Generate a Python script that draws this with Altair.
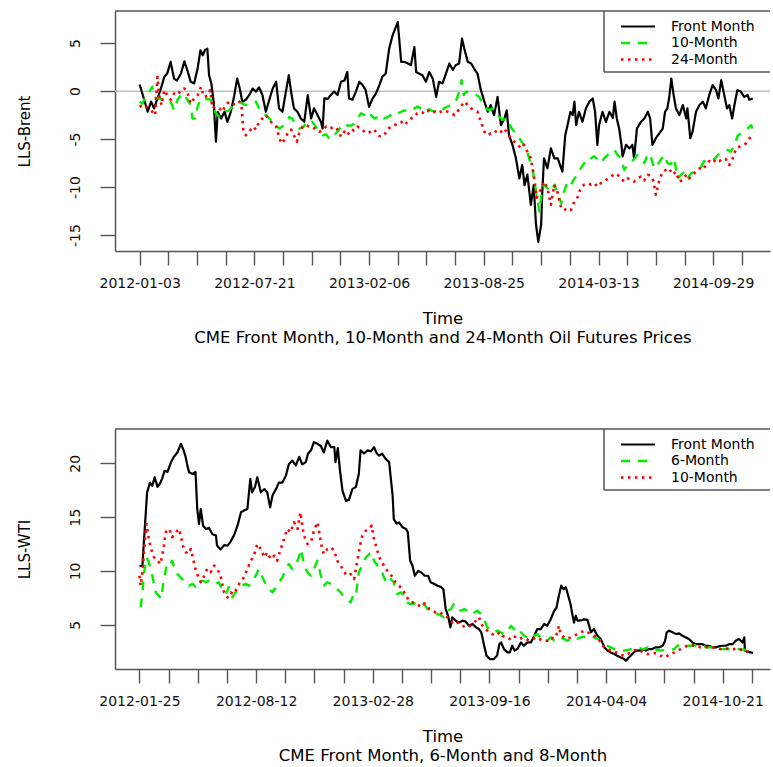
import altair as alt
import pandas as pd

FONT = "DejaVu Sans"
FRAME = "#555555"

# ---------------- Panel 1: LLS-Brent ----------------
TOP_START = "2012-01-03"
TOP_X_DOMAIN = ["2011-11-21", "2015-01-06"]
TOP_Y_DOMAIN = [-16.66, 8.35]
TOP_Y_TICKS = [-15, -10, -5, 0, 5]
TOP_Y_TITLE = "LLS-Brent"
TOP_CAPTION = "CME Front Month, 10-Month and 24-Month Oil Futures Prices"
TOP_LABELS = ["Front Month", "10-Month", "24-Month"]

# (days since TOP_START, spread)
TOP_FRONT = [
    (0, 0.69), (14, -2.15), (20, -1.1), (25, -1.8), (31, -0.77), (37, 0.27), (43, 1.49), (48, 1.83), (54, 3.05), (60, 1.3),
    (65, 1.1), (72, 1.83), (78, 3.1), (83, 2.2), (89, 0.97), (95, 0.8), (101, 2.35), (106, 4.26), (110, 3.74), (114, 4.3),
    (118, 4.43), (121, 1.66), (125, 0.79), (129, -1.1), (133, -5.27), (136, -2.15), (142, -2.85), (148, -2.15), (153, -3.2), (159, -2.15),
    (165, -0.42), (170, 1.3), (174, 0.4), (179, -1.1), (185, -0.9), (191, -0.42), (197, 0.27), (203, -0.05), (208, 0.4), (214, -0.4),
    (220, -2.15), (226, -0.9), (232, 0.27), (238, 0.97), (243, -1.8), (249, -2.15), (255, -0.05), (260, 1.66), (264, -0.05), (269, -1.8),
    (275, -2.15), (281, -2.85), (287, -3.2), (293, -0.42), (299, -2.85), (304, -1.8), (310, -2.5), (316, -3.2), (319, -3.9), (322, -0.75),
    (328, -0.8), (333, -0.42), (339, -0.05), (345, -0.4), (351, 0.97), (357, 1.1), (362, 2.0), (365, -0.77), (371, -0.9), (377, -0.05),
    (383, 0.97), (389, 0.62), (394, 0.1), (400, -1.63), (406, -0.77), (412, -0.25), (418, 0.62), (423, 1.49), (429, 1.83), (435, 4.43),
    (441, 5.82), (450, 7.2), (453, 5.1), (456, 3.05), (461, 3.05), (467, 2.9), (473, 2.7), (479, 4.6), (482, 2.0), (487, 1.83),
    (493, 1.66), (499, 0.97), (505, 2.0), (511, 1.3), (517, -0.6), (522, 0.97), (528, 0.8), (534, 1.83), (540, 2.88), (546, 2.2),
    (551, 2.7), (557, 2.88), (562, 5.47), (566, 4.43), (572, 3.05), (578, 2.88), (583, 2.35), (589, 1.83), (595, 0.1), (601, -1.1),
    (607, -2.15), (612, -1.45), (618, -2.5), (624, -0.6), (630, -3.55), (636, -2.85), (640, -2.0), (644, -4.6), (650, -5.6), (656, -7.0),
    (662, -9.1), (667, -7.7), (671, -9.8), (676, -8.7), (682, -11.85), (687, -9.8), (691, -13.9), (695, -15.7), (700, -13.9), (702, -10.5),
    (705, -7.0), (711, -8.05), (717, -5.97), (723, -7.0), (729, -7.0), (735, -8.05), (737, -8.4), (742, -4.6), (746, -3.55), (751, -2.15),
    (755, -2.5), (758, -1.1), (761, -3.55), (766, -2.15), (772, -3.2), (778, -1.8), (784, -1.1), (790, -0.77), (794, -2.15), (798, -5.6),
    (801, -3.55), (807, -2.15), (813, -3.2), (819, -2.15), (825, -2.8), (828, -1.1), (832, -2.9), (836, -3.9), (840, -5.6), (842, -6.8),
    (848, -5.6), (854, -5.97), (859, -5.6), (862, -7.0), (867, -3.9), (874, -3.2), (880, -2.85), (886, -2.15), (890, -2.85), (894, -5.6),
    (900, -4.9), (906, -4.4), (912, -3.9), (916, -2.15), (920, -1.8), (923, -0.77), (927, 1.3), (931, -0.42), (935, -1.8), (941, -2.5),
    (947, -1.45), (953, -2.85), (955, -1.8), (960, -4.9), (964, -4.23), (970, -2.15), (976, -1.45), (982, -1.1), (987, -1.8), (993, -0.42),
    (999, 0.62), (1005, 0.1), (1009, -0.77), (1014, 1.14), (1018, -0.05), (1024, -1.8), (1028, -1.45), (1033, -2.85), (1037, -1.45), (1042, 0.1),
    (1048, -0.05), (1054, -0.6), (1060, -0.4), (1063, -0.9), (1069, -0.77),
]

TOP_10M = [
    (0, -1.1), (5, -1.3), (11, -0.42), (17, -0.05), (22, 0.45), (25, -0.6), (31, -0.77), (37, -0.8), (43, -0.9), (48, -0.8),
    (54, -1.1), (60, -1.98), (66, -0.9), (72, -0.42), (78, -0.25), (83, -0.9), (89, -1.45), (92, -2.85), (97, -2.85), (101, -1.6),
    (107, -0.77), (112, -0.9), (118, -0.8), (124, -0.9), (129, -1.8), (133, -2.3), (139, -2.7), (144, -2.5), (150, -2.15), (156, -2.0),
    (162, -1.6), (168, -1.3), (174, -1.1), (179, -1.3), (185, -1.45), (191, -1.3), (197, -1.1), (203, -1.1), (208, -1.8), (214, -2.3),
    (220, -2.5), (226, -2.85), (232, -3.2), (238, -3.55), (243, -3.9), (249, -3.7), (255, -3.2), (261, -2.7), (266, -2.85), (272, -3.55),
    (278, -3.9), (284, -3.8), (290, -3.4), (296, -3.55), (301, -3.2), (307, -3.7), (313, -4.23), (319, -4.6), (325, -4.5), (330, -4.9),
    (336, -4.93), (342, -4.4), (345, -4.23), (351, -3.7), (357, -3.9), (362, -3.55), (368, -3.6), (374, -3.4), (380, -2.85), (386, -2.3),
    (392, -2.5), (397, -2.85), (403, -2.5), (409, -2.85), (415, -2.7), (421, -2.5), (426, -2.85), (432, -2.7), (438, -2.5), (444, -2.15),
    (450, -2.3), (456, -2.15), (461, -2.0), (467, -2.15), (473, -2.0), (479, -1.8), (484, -1.6), (490, -1.8), (496, -2.0), (502, -1.8),
    (508, -2.0), (514, -2.15), (519, -1.8), (525, -2.0), (531, -1.8), (537, -1.6), (543, -1.45), (549, -1.3), (553, -0.77), (557, -0.05),
    (561, 1.14), (565, -0.42), (569, -0.05), (575, -0.25), (580, -0.25), (586, -0.35), (592, -0.6), (598, -1.3), (604, -1.8), (609, -1.98),
    (615, -1.8), (621, -2.15), (627, -2.7), (633, -3.0), (639, -2.85), (644, -3.4), (650, -4.0), (656, -4.4), (662, -4.93), (668, -5.45),
    (674, -5.97), (679, -7.0), (685, -8.05), (691, -10.47), (697, -12.55), (700, -11.1), (704, -9.75), (711, -10.1), (717, -10.47),
    (723, -9.75), (729, -10.65), (735, -11.7), (740, -10.47), (746, -9.43), (752, -9.75), (758, -9.1), (764, -8.7), (769, -8.05), (775, -7.5),
    (781, -7.6), (787, -7.0), (793, -6.8), (798, -7.1), (804, -7.5), (810, -7.0), (816, -6.65), (822, -6.5), (828, -6.13), (833, -6.65),
    (839, -7.0), (845, -8.2), (851, -7.7), (857, -7.3), (862, -7.1), (868, -6.65), (874, -7.0), (880, -7.5), (886, -6.5), (892, -7.0),
    (897, -8.05), (903, -7.7), (909, -7.1), (915, -6.65), (920, -7.5), (926, -7.6), (932, -7.0), (938, -9.1), (944, -8.7), (950, -8.4),
    (955, -9.1), (961, -8.6), (967, -8.4), (973, -8.05), (979, -7.87), (984, -7.3), (990, -7.2), (996, -7.0), (1002, -7.1), (1008, -6.65),
    (1014, -6.5), (1019, -6.3), (1025, -6.13), (1031, -6.3), (1037, -5.6), (1043, -4.6), (1049, -4.4), (1054, -4.23), (1060, -3.9), (1066, -3.55),
    (1069, -4.0),
]

TOP_24M = [
    (0, -1.63), (5, -1.45), (11, -1.6), (17, -1.8), (22, -2.15), (27, -2.5), (31, 1.49), (34, -0.42), (38, -1.45), (43, 0.1),
    (48, -0.42), (54, -0.9), (60, -0.25), (66, -0.4), (72, 0.1), (78, 0.27), (83, -0.05), (89, -1.3), (95, -0.77), (101, -0.42),
    (107, 0.45), (112, -0.6), (118, -0.5), (123, 0.1), (127, -1.8), (133, -1.63), (139, -1.8), (144, -2.15), (150, -1.45), (156, -1.1),
    (162, -1.3), (168, -1.45), (174, -1.1), (178, -1.8), (181, -4.23), (185, -4.6), (191, -4.23), (197, -3.7), (203, -4.0), (208, -3.2),
    (214, -2.85), (220, -2.5), (226, -3.0), (232, -3.4), (238, -3.7), (243, -4.75), (247, -5.45), (252, -5.1), (258, -4.4), (264, -4.0),
    (269, -4.6), (274, -5.27), (278, -4.4), (284, -3.7), (290, -3.55), (296, -3.7), (301, -3.7), (307, -4.0), (313, -4.23), (319, -4.1),
    (325, -3.7), (330, -3.9), (336, -3.8), (339, -3.7), (345, -4.0), (351, -4.75), (357, -4.23), (362, -4.6), (368, -4.0), (374, -4.1),
    (380, -3.7), (386, -3.9), (392, -4.23), (397, -4.4), (403, -4.2), (409, -4.0), (415, -4.6), (421, -4.75), (426, -4.6), (432, -4.0),
    (438, -3.7), (444, -3.55), (450, -3.4), (456, -3.2), (461, -3.55), (467, -3.2), (473, -2.85), (479, -2.7), (484, -2.3), (490, -2.15),
    (496, -2.3), (502, -2.0), (508, -2.3), (514, -2.15), (519, -2.3), (525, -2.15), (531, -2.0), (537, -2.15), (543, -2.3), (549, -2.5),
    (554, -2.15), (560, -1.63), (566, -1.1), (572, -1.45), (578, -1.8), (583, -2.0), (589, -2.15), (595, -3.2), (601, -4.23), (607, -4.6),
    (612, -4.4), (618, -4.4), (624, -4.0), (630, -4.23), (636, -3.9), (641, -4.4), (647, -4.93), (653, -5.27), (659, -5.6), (665, -5.97),
    (670, -5.6), (676, -6.3), (682, -7.0), (688, -9.1), (692, -11.1), (697, -10.47), (702, -9.95), (705, -9.43), (711, -10.1), (717, -11.85),
    (723, -9.75), (729, -10.65), (735, -12.2), (740, -12.4), (746, -12.2), (752, -12.4), (758, -11.5), (764, -11.0), (769, -10.1), (775, -9.75),
    (781, -9.6), (787, -9.75), (793, -9.6), (798, -9.95), (804, -9.6), (810, -9.43), (816, -9.1), (822, -8.9), (828, -8.6), (833, -8.7),
    (839, -9.1), (845, -9.43), (851, -9.1), (857, -9.25), (862, -9.43), (868, -9.1), (874, -8.9), (880, -9.3), (886, -8.7), (892, -8.9),
    (896, -9.43), (900, -10.8), (906, -9.3), (912, -8.4), (918, -8.2), (923, -8.05), (929, -8.7), (935, -8.4), (941, -9.43), (947, -9.25),
    (953, -8.7), (958, -9.1), (964, -8.7), (970, -8.4), (976, -8.05), (982, -8.2), (987, -7.7), (993, -7.3), (999, -7.5), (1005, -7.1),
    (1011, -7.3), (1016, -7.0), (1022, -7.1), (1028, -7.7), (1034, -7.0), (1040, -5.97), (1045, -5.8), (1051, -5.6), (1057, -5.45), (1063, -4.93),
    (1069, -4.75),
]

# ---------------- Panel 2: LLS-WTI ----------------
BOT_START = "2012-01-25"
BOT_X_DOMAIN = ["2011-12-14", "2015-01-10"]
BOT_Y_DOMAIN = [0.89, 23.18]
BOT_Y_TICKS = [5, 10, 15, 20]
BOT_Y_TITLE = "LLS-WTI"
BOT_CAPTION = "CME Front Month, 6-Month and 8-Month"
BOT_LABELS = ["Front Month", "6-Month", "10-Month"]

BOT_FRONT = [
    (0, 10.43), (5, 10.5), (9, 13.9), (13, 17.3), (18, 18.2), (22, 17.9), (26, 18.7), (31, 17.8), (35, 18.1), (39, 18.6),
    (43, 19.3), (48, 19.2), (54, 20.1), (59, 20.6), (65, 21.0), (71, 21.8), (75, 21.3), (79, 20.6), (82, 19.8), (85, 19.16),
    (91, 19.0), (96, 19.2), (99, 15.75), (102, 14.36), (105, 15.75), (109, 14.2), (114, 13.9), (119, 14.0), (125, 13.4), (131, 13.3),
    (133, 12.35), (139, 12.0), (145, 12.4), (151, 12.35), (156, 12.7), (162, 13.3), (168, 14.2), (174, 15.45), (179, 15.6), (185, 15.75),
    (190, 18.55), (193, 17.3), (198, 17.8), (202, 18.7), (208, 17.3), (214, 17.6), (219, 17.3), (224, 15.9), (228, 17.0), (234, 17.6),
    (239, 18.2), (245, 18.2), (251, 18.85), (256, 19.9), (262, 20.25), (268, 19.8), (274, 20.6), (279, 19.9), (285, 20.1), (289, 20.9),
    (294, 21.2), (299, 21.95), (305, 21.8), (311, 21.6), (316, 21.0), (322, 22.1), (328, 21.5), (334, 21.5), (336, 20.1), (340, 21.4),
    (344, 19.2), (348, 17.45), (354, 16.5), (359, 16.6), (365, 17.6), (371, 17.8), (376, 19.0), (379, 21.2), (385, 20.9), (391, 21.2),
    (397, 21.1), (402, 21.5), (407, 20.9), (411, 20.7), (416, 20.9), (422, 20.4), (428, 20.1), (431, 18.55), (434, 17.0), (436, 14.8),
    (441, 14.4), (445, 14.5), (451, 14.05), (457, 13.9), (460, 13.6), (464, 10.95), (468, 10.5), (472, 9.55), (478, 10.0), (483, 9.85),
    (489, 9.55), (495, 9.55), (499, 8.95), (505, 8.8), (511, 8.63), (517, 8.5), (521, 8.3), (525, 6.46), (529, 5.84), (533, 4.76),
    (536, 5.69), (542, 5.38), (548, 5.2), (554, 5.38), (559, 5.3), (565, 4.9), (571, 5.07), (577, 4.76), (582, 4.6), (586, 4.3),
    (591, 3.05), (595, 2.12), (601, 1.81), (607, 1.81), (613, 2.12), (617, 3.2), (620, 3.35), (625, 2.74), (631, 2.43), (635, 2.43),
    (639, 3.05), (643, 2.6), (648, 2.74), (654, 3.36), (659, 3.05), (665, 3.36), (671, 3.36), (677, 3.98), (682, 4.6), (688, 4.6),
    (694, 5.07), (699, 4.9), (705, 5.5), (711, 6.3), (715, 6.6), (719, 7.7), (723, 8.63), (727, 8.3), (731, 8.48), (735, 7.7),
    (739, 6.92), (742, 6.0), (745, 5.2), (748, 5.84), (751, 5.38), (757, 5.4), (762, 5.5), (768, 5.45), (771, 4.9), (774, 4.3),
    (779, 4.6), (785, 3.98), (791, 3.67), (797, 2.9), (802, 2.6), (808, 2.43), (814, 2.28), (819, 2.12), (825, 1.96), (831, 1.81),
    (834, 1.65), (839, 1.96), (845, 2.28), (851, 2.6), (857, 2.6), (862, 2.74), (868, 2.6), (874, 2.74), (879, 2.74), (885, 2.9),
    (891, 2.9), (897, 3.05), (901, 3.5), (904, 4.3), (908, 4.45), (914, 4.3), (920, 4.13), (925, 4.2), (931, 3.98), (937, 3.82),
    (942, 3.67), (948, 3.36), (954, 3.2), (960, 3.2), (965, 3.2), (971, 3.05), (977, 3.05), (982, 2.9), (988, 2.9), (994, 3.0),
    (1000, 3.05), (1005, 3.05), (1011, 3.2), (1017, 3.2), (1022, 3.52), (1028, 3.67), (1034, 3.36), (1037, 3.82), (1038, 2.6), (1042, 2.5),
    (1048, 2.43), (1052, 2.38),
]

BOT_6M = [
    (2, 6.62), (5, 8.0), (8, 9.87), (12, 11.26), (16, 10.8), (22, 9.55), (28, 8.0), (33, 7.7), (37, 7.4), (42, 9.25),
    (47, 10.64), (52, 10.5), (56, 10.95), (62, 9.87), (68, 9.55), (73, 9.25), (79, 9.1), (85, 8.63), (91, 8.8), (96, 8.5),
    (102, 8.95), (108, 9.1), (114, 8.95), (119, 9.1), (125, 8.95), (131, 8.8), (136, 8.95), (142, 8.3), (148, 7.85), (153, 8.5),
    (159, 7.54), (165, 8.0), (171, 8.3), (176, 8.63), (182, 8.8), (188, 8.63), (193, 8.95), (199, 9.55), (205, 10.18), (211, 9.4),
    (216, 8.8), (222, 8.3), (228, 8.0), (234, 8.5), (239, 8.95), (245, 9.4), (251, 10.18), (256, 10.64), (262, 10.18), (268, 10.5),
    (274, 11.41), (277, 12.03), (282, 10.5), (288, 9.87), (294, 9.55), (299, 10.18), (305, 10.95), (311, 9.55), (316, 8.63), (322, 8.95),
    (328, 8.8), (334, 8.63), (339, 8.3), (345, 8.0), (351, 7.54), (356, 7.38), (362, 7.08), (367, 7.85), (371, 7.7), (376, 9.87),
    (382, 10.5), (388, 11.26), (394, 11.57), (398, 11.72), (402, 10.95), (408, 10.5), (414, 10.18), (419, 9.4), (425, 8.8), (431, 9.25),
    (436, 8.95), (442, 7.85), (448, 8.0), (454, 7.7), (459, 7.08), (465, 6.92), (471, 7.0), (476, 6.77), (482, 6.8), (488, 6.9),
    (494, 6.46), (499, 6.3), (505, 6.15), (511, 6.0), (517, 5.84), (522, 5.69), (528, 6.3), (534, 6.46), (539, 6.92), (545, 6.46),
    (551, 6.3), (557, 6.46), (562, 6.3), (568, 6.46), (574, 6.15), (579, 6.3), (585, 6.0), (591, 5.53), (596, 4.76), (602, 4.6),
    (608, 4.3), (614, 4.45), (619, 4.3), (625, 4.13), (631, 4.45), (637, 4.9), (642, 4.6), (648, 4.13), (654, 4.3), (659, 3.98),
    (665, 3.82), (671, 3.67), (677, 3.98), (682, 4.13), (688, 3.82), (694, 3.67), (699, 3.52), (705, 3.82), (711, 3.52), (717, 3.7),
    (722, 3.82), (728, 3.67), (734, 3.52), (739, 3.67), (745, 3.82), (751, 3.7), (757, 3.82), (762, 3.9), (768, 3.82), (774, 3.98),
    (779, 3.82), (785, 3.7), (791, 3.52), (797, 3.2), (802, 3.05), (808, 2.9), (814, 2.74), (819, 2.68), (825, 2.6), (831, 2.6),
    (837, 2.65), (842, 2.74), (848, 2.68), (854, 2.74), (859, 2.8), (865, 2.74), (871, 2.9), (877, 2.74), (882, 2.6), (888, 2.68),
    (894, 2.6), (900, 2.65), (905, 2.74), (911, 2.68), (917, 2.74), (922, 3.05), (928, 3.1), (934, 3.1), (939, 3.05), (945, 3.05),
    (951, 3.1), (957, 3.05), (962, 3.0), (968, 3.0), (974, 2.9), (980, 2.9), (985, 2.85), (991, 2.8), (997, 2.74), (1002, 2.74),
    (1008, 2.74), (1014, 2.68), (1020, 2.74), (1025, 2.74), (1031, 2.74), (1037, 2.68), (1042, 2.6), (1048, 2.43),
]

BOT_10M = [
    (0, 9.55), (2, 8.63), (5, 9.87), (9, 12.66), (12, 14.36), (16, 12.97), (20, 12.03), (25, 11.26), (31, 10.95), (36, 10.64),
    (41, 12.03), (45, 13.59), (51, 13.9), (56, 13.13), (62, 13.59), (68, 13.9), (72, 12.97), (76, 12.03), (82, 11.57), (88, 12.03),
    (92, 11.1), (96, 10.18), (100, 9.55), (105, 8.95), (111, 9.55), (116, 10.18), (122, 9.87), (128, 10.5), (133, 10.18), (139, 9.55),
    (145, 8.0), (151, 7.54), (156, 8.0), (162, 7.85), (168, 8.5), (174, 9.1), (179, 9.4), (185, 10.18), (191, 10.95), (196, 11.41),
    (202, 12.5), (208, 12.03), (214, 11.26), (219, 11.72), (225, 11.1), (231, 11.41), (236, 10.95), (242, 12.03), (248, 12.97), (253, 13.9),
    (259, 13.59), (265, 14.52), (271, 13.9), (276, 15.45), (279, 14.21), (282, 13.28), (288, 12.5), (294, 12.66), (299, 13.74), (305, 14.52),
    (308, 13.59), (312, 12.35), (316, 11.57), (322, 12.03), (328, 12.2), (334, 11.88), (339, 10.95), (345, 10.5), (351, 9.87), (356, 9.55),
    (362, 9.7), (368, 9.25), (374, 11.1), (378, 12.35), (382, 13.28), (388, 13.74), (394, 13.9), (398, 14.21), (402, 12.97), (407, 12.03),
    (411, 11.26), (416, 10.8), (422, 10.18), (428, 9.87), (434, 9.4), (439, 8.95), (445, 8.63), (451, 8.3), (457, 7.7), (462, 7.23),
    (468, 7.08), (474, 6.92), (479, 6.77), (485, 7.08), (491, 6.9), (497, 6.46), (502, 6.3), (508, 6.15), (514, 6.2), (519, 6.0),
    (525, 5.84), (531, 5.53), (536, 5.22), (542, 5.38), (548, 5.07), (554, 4.9), (559, 4.76), (565, 4.85), (571, 5.07), (577, 5.38),
    (582, 5.69), (588, 4.9), (594, 4.6), (599, 4.3), (605, 4.13), (611, 3.98), (617, 4.3), (622, 3.98), (628, 3.82), (634, 3.67),
    (639, 3.98), (645, 3.85), (651, 3.67), (657, 3.8), (662, 3.7), (668, 3.52), (674, 3.65), (679, 3.82), (685, 3.7), (691, 3.52),
    (699, 3.52), (705, 3.82), (711, 3.7), (717, 4.3), (719, 4.9), (722, 4.13), (728, 3.82), (734, 3.7), (739, 3.82), (745, 3.98),
    (751, 4.13), (757, 4.3), (762, 4.45), (768, 4.3), (774, 4.13), (779, 3.98), (785, 3.82), (791, 3.36), (797, 2.9), (802, 2.74),
    (808, 2.6), (814, 2.5), (819, 2.38), (825, 2.2), (831, 2.12), (837, 2.28), (842, 2.43), (848, 2.6), (854, 2.68), (859, 2.6),
    (865, 2.38), (871, 2.28), (877, 2.28), (882, 2.38), (888, 2.3), (894, 2.12), (900, 1.96), (905, 2.12), (911, 2.28), (917, 2.43),
    (922, 2.6), (928, 2.74), (934, 2.9), (939, 3.05), (945, 3.1), (951, 3.05), (957, 3.0), (962, 2.9), (968, 2.95), (974, 2.9),
    (980, 2.85), (985, 2.9), (991, 2.8), (997, 2.74), (1002, 2.74), (1008, 2.8), (1014, 2.74), (1020, 2.74), (1025, 2.8), (1031, 2.68),
    (1037, 2.68), (1042, 2.5), (1048, 2.38),
]

# axis ticks: one every 50 days from the first date, labelled every 4th
TICK_STEP_DAYS = 50
N_TICKS = 22
LABEL_EVERY = 4

# ---------------- styling ----------------
W, H = 655, 240
STYLES = [
    dict(color="#000000", dash=None, width=2.2),
    dict(color="#00EE00", dash=[9, 8], width=2.4),
    dict(color="#FF0000", dash=[2.5, 4.5], width=2.6),
]
LEG_BOX_X = 489
LEG_BOX_BOTTOM = 61
LEG_LINE_X = (506, 540)
LEG_TEXT_X = 556
LEG_Y = [15.5, 32, 48.5]


def to_ms(s):
    return int(pd.Timestamp(s).value // 10**6)


def frame(start, pairs):
    days = [p[0] for p in pairs]
    vals = [p[1] for p in pairs]
    dates = pd.Timestamp(start) + pd.to_timedelta(days, unit="D")
    return pd.DataFrame({"date": [d.strftime("%Y-%m-%d") for d in dates], "value": vals})


def one():
    return pd.DataFrame({"k": [0]})


def panel(start, x_domain, y_domain, y_ticks, y_title, caption, labels, series, zero_line):
    t0 = pd.Timestamp(start)
    tick_ms = [to_ms(t0 + pd.Timedelta(days=TICK_STEP_DAYS * k)) for k in range(N_TICKS)]
    period = TICK_STEP_DAYS * LABEL_EVERY
    label_expr = (f"(round((datum.value - {tick_ms[0]}) / 86400000) % {period} == 0)"
                  f" ? utcFormat(datum.value, '%Y-%m-%d') : ''")
    x = alt.X(
        "date:T",
        scale=alt.Scale(type="utc", domain=[to_ms(x_domain[0]), to_ms(x_domain[1])], nice=False),
        axis=alt.Axis(
            values=tick_ms, labelExpr=label_expr, title=["Time", caption], grid=False,
            tickSize=14, tickWidth=1.4, tickColor=FRAME, domainColor=FRAME, domainWidth=1.5,
            labelFont=FONT, labelFontSize=14, labelColor="#111111", labelPadding=11,
            labelOverlap=False, labelFlush=False, labelBound=False,
            titleFont=FONT, titleFontSize=16.5, titleFontWeight="normal", titleColor="#000000",
            titlePadding=20, titleLineHeight=19.5,
        ),
    )
    y = alt.Y(
        "value:Q",
        scale=alt.Scale(domain=y_domain, nice=False, zero=False),
        axis=alt.Axis(
            values=y_ticks, labelExpr="'' + datum.value", title=y_title, grid=False,
            tickSize=15, tickWidth=1.4, tickColor=FRAME, domainColor=FRAME, domainWidth=1.5,
            labelFont=FONT, labelFontSize=14, labelColor="#111111", labelPadding=21,
            labelAngle=270, labelAlign="center", labelBaseline="alphabetic",
            titleFont=FONT, titleFontSize=15, titleFontWeight="normal", titleColor="#000000",
            titlePadding=36,
        ),
    )

    layers = []
    if zero_line:
        layers.append(
            alt.Chart(pd.DataFrame({"value": [0.0]})).mark_rule(color="#BEBEBE", strokeWidth=1.5).encode(y=y)
        )
    for (start_s, pairs), st in zip(series, STYLES):
        kw = dict(color=st["color"], strokeWidth=st["width"], strokeCap="butt", strokeJoin="round")
        if st["dash"]:
            kw["strokeDash"] = st["dash"]
        layers.append(alt.Chart(frame(start_s, pairs)).mark_line(**kw).encode(x=x, y=y))

    # frame top edge
    layers.append(alt.Chart(one()).mark_rule(color=FRAME, strokeWidth=1.5).encode(
        x=alt.value(0), x2=alt.value(W), y=alt.value(0)))
    # legend box
    layers.append(alt.Chart(one()).mark_rule(color=FRAME, strokeWidth=1.5).encode(
        x=alt.value(LEG_BOX_X), y=alt.value(0), y2=alt.value(LEG_BOX_BOTTOM)))
    layers.append(alt.Chart(one()).mark_rule(color=FRAME, strokeWidth=1.5).encode(
        x=alt.value(LEG_BOX_X), x2=alt.value(W), y=alt.value(LEG_BOX_BOTTOM)))
    for label, st, ly in zip(labels, STYLES, LEG_Y):
        kw = dict(color=st["color"], strokeWidth=st["width"], strokeCap="butt")
        if st["dash"]:
            kw["strokeDash"] = st["dash"]
        layers.append(alt.Chart(one()).mark_rule(**kw).encode(
            x=alt.value(LEG_LINE_X[0]), x2=alt.value(LEG_LINE_X[1]), y=alt.value(ly)))
        layers.append(alt.Chart(pd.DataFrame({"label": [label]})).mark_text(
            align="left", baseline="middle", font=FONT, fontSize=14, color="#000000"
        ).encode(x=alt.value(LEG_TEXT_X), y=alt.value(ly), text="label:N"))

    return alt.layer(*layers).properties(width=W, height=H)


top = panel(TOP_START, TOP_X_DOMAIN, TOP_Y_DOMAIN, TOP_Y_TICKS, TOP_Y_TITLE, TOP_CAPTION, TOP_LABELS,
            [(TOP_START, TOP_FRONT), (TOP_START, TOP_10M), (TOP_START, TOP_24M)], True)
bottom = panel(BOT_START, BOT_X_DOMAIN, BOT_Y_DOMAIN, BOT_Y_TICKS, BOT_Y_TITLE, BOT_CAPTION, BOT_LABELS,
               [(BOT_START, BOT_FRONT), (BOT_START, BOT_6M), (BOT_START, BOT_10M)], False)

chart = alt.vconcat(top, bottom, spacing=82).properties(
    padding={"left": 17, "top": 10, "right": 0, "bottom": 0}
).configure_view(stroke=None)

chart.save("out.html", embed_options={"renderer": "svg", "actions": False})
